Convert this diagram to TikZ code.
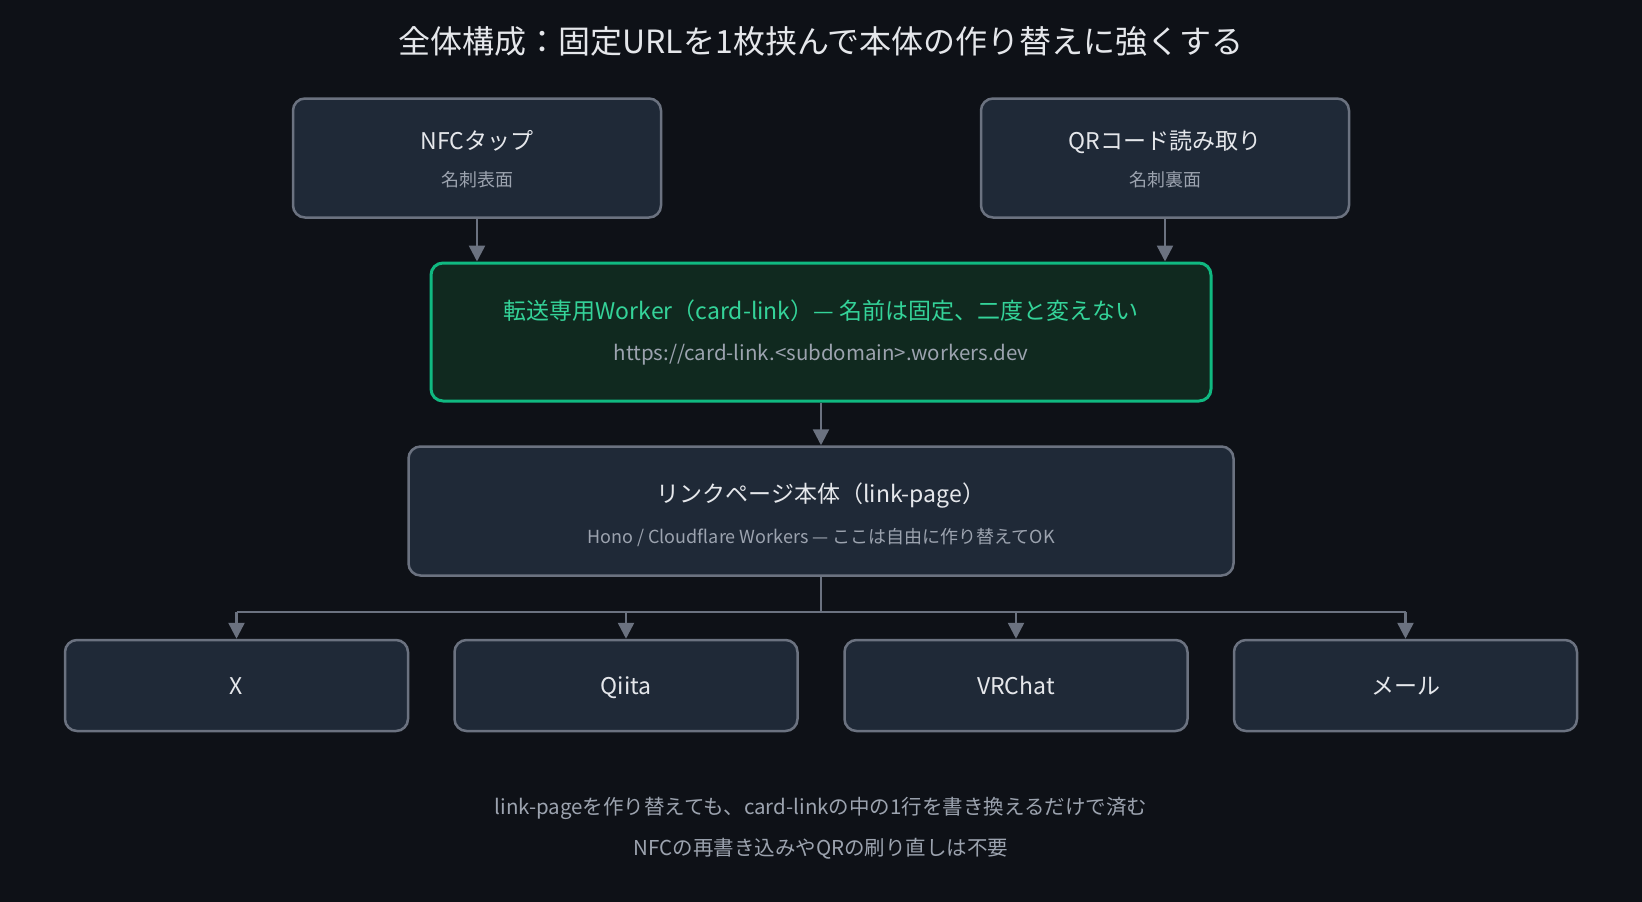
\documentclass[tikz,border=0pt]{standalone}
\usepackage{fontspec}
\setmainfont{Noto Sans CJK JP}
\usetikzlibrary{arrows.meta}
\definecolor{bg}{HTML}{0E1117}
\definecolor{boxfill}{HTML}{1F2937}
\definecolor{boxline}{HTML}{6B7280}
\definecolor{gfill}{HTML}{10291F}
\definecolor{gline}{HTML}{10B981}
\definecolor{gtext}{HTML}{34D399}
\definecolor{subtext}{HTML}{9CA3AF}
\definecolor{maintext}{HTML}{E5E7EB}
\tikzset{
  card/.style={draw=boxline, fill=boxfill, line width=2.5pt, rounded corners=12pt, inner sep=0pt},
  gcard/.style={draw=gline, fill=gfill, line width=3pt, rounded corners=12pt, inner sep=0pt},
  txt/.style={inner sep=0pt, text height=0.8em, text depth=0.2em},
  maintxt/.style={txt, text=maintext, font=\fontsize{23}{27}\selectfont},
  subtxt/.style={txt, text=subtext, font=\fontsize{18}{22}\selectfont},
  gtxt/.style={txt, text=gtext, font=\fontsize{23}{27}\selectfont},
  foot/.style={txt, text=subtext, font=\fontsize{20.5}{24}\selectfont},
  leaf/.style={card, minimum width=343pt, minimum height=91pt},
  leaftxt/.style={txt, text=maintext, font=\fontsize{23}{27}\selectfont},
  conn/.style={draw=boxline, line width=2.5pt},
  arr/.style={conn, -{Triangle[width=16pt,length=16pt]}}
}
\begin{document}
\begin{tikzpicture}[x=1pt,y=-1pt]
\fill[bg] (0,0) rectangle (1642,902);
\useasboundingbox (0,0) rectangle (1642,902);

\node[txt, text=maintext, font=\fontsize{32}{38}\selectfont] (title) at (821,50) {全体構成：固定URLを1枚挟んで本体の作り替えに強くする};

% top cards
\node[card, minimum width=368pt, minimum height=119pt] (nfc) at (477,158) {};
\node[maintxt] (nfct) at ([yshift=12pt]nfc.center) {NFCタップ};
\node[subtxt] (nfcs) at ([yshift=-25pt]nfc.center) {名刺表面};

\node[card, minimum width=368pt, minimum height=119pt] (qr) at (1165,158) {};
\node[maintxt] (qrt) at ([yshift=12pt]qr.center) {QRコード読み取り};
\node[subtxt] (qrs) at ([yshift=-25pt]qr.center) {名刺裏面};

% green worker
\node[gcard, minimum width=780pt, minimum height=138pt] (green) at (821,332) {};
\node[gtxt] (greent) at ([yshift=16pt]green.center) {転送専用Worker（card-link）— 名前は固定、二度と変えない};
\node[subtxt, font=\fontsize{20.5}{24}\selectfont] (greens) at ([yshift=-25pt]green.center) {https://card-link.<subdomain>.workers.dev};

% link page
\node[card, minimum width=825pt, minimum height=129pt] (link) at (821,511) {};
\node[maintxt] (linkt) at ([yshift=12pt]link.center) {リンクページ本体（link-page）};
\node[subtxt] (links) at ([yshift=-29pt]link.center) {Hono / Cloudflare Workers — ここは自由に作り替えてOK};

% bottom
\node[leaf] (x) at (236.5,685.5) {};
\node[leaf] (qiita) at (626,685.5) {};
\node[leaf] (vrc) at (1016,685.5) {};
\node[leaf] (mail) at (1405.5,685.5) {};
\node[leaftxt] (xt) at ([yshift=-6pt]x.center) {X};
\node[leaftxt] (qiitat) at ([yshift=-6pt]qiita.center) {Qiita};
\node[leaftxt] (vrct) at ([yshift=-6pt]vrc.center) {VRChat};
\node[leaftxt] (mailt) at ([yshift=-6pt]mail.center) {メール};

% connectors
\draw[arr] (nfc.south) -- (nfc.south |- green.north);
\draw[arr] (qr.south) -- (qr.south |- green.north);
\draw[arr] (green.south) -- (link.north);
\coordinate (bus) at (821,612);
\draw[conn] (link.south) -- (bus);
\draw[conn] (x.north |- bus) -- (mail.north |- bus);
\draw[arr] (x.north |- bus) -- (x.north);
\draw[arr] (qiita.north |- bus) -- (qiita.north);
\draw[arr] (vrc.north |- bus) -- (vrc.north);
\draw[arr] (mail.north |- bus) -- (mail.north);

% footnotes
\node[foot] (f1) at (821,811) {link-pageを作り替えても、card-linkの中の1行を書き換えるだけで済む};
\node[foot] (f2) at (821,852) {NFCの再書き込みやQRの刷り直しは不要};
\end{tikzpicture}
\end{document}
